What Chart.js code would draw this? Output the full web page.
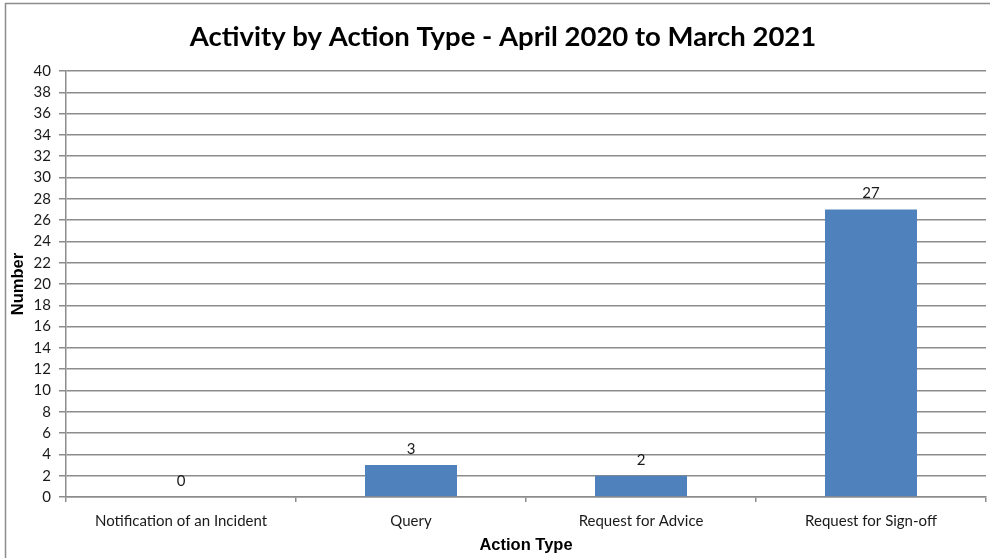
<!DOCTYPE html>
<html>
<head>
<meta charset="utf-8">
<script src="https://cdn.jsdelivr.net/npm/chart.js@4/dist/chart.umd.min.js"></script>
<style>
  html, body { margin: 0; padding: 0; background: #fff; }
  #chart { display: block; }
</style>
</head>
<body>
<canvas id="chart" width="990" height="558"></canvas>
<script>
const categories = ["Notification of an Incident", "Query", "Request for Advice", "Request for Sign-off"];
const counts = [0, 3, 2, 27];
const yMin = 0;
const yMax = 40;
const yStep = 2;

const gridColor = "#8c8c8c";
const labelFont = "Lato, 'Open Sans', sans-serif";
const axisTitleFont = "'Liberation Sans', Arial, sans-serif";

// frame around the whole chart (left and top edges are visible)
const framePlugin = {
  id: "frame",
  beforeDraw(chart) {
    const ctx = chart.ctx;
    ctx.save();
    ctx.fillStyle = "#fff";
    ctx.fillRect(0, 0, chart.width, chart.height);
    ctx.strokeStyle = "#8c8c8c";
    ctx.lineWidth = 1.5;
    ctx.strokeRect(5.5, 3.5, chart.width + 20, chart.height + 20);
    ctx.restore();
  }
};

// value printed above each bar
const valueLabels = {
  id: "valueLabels",
  afterDatasetsDraw(chart) {
    const ctx = chart.ctx;
    const meta = chart.getDatasetMeta(0);
    ctx.save();
    ctx.font = "15px " + labelFont;
    ctx.fillStyle = "#1a1a1a";
    ctx.textAlign = "center";
    ctx.textBaseline = "middle";
    meta.data.forEach((bar, i) => {
      ctx.fillText(String(counts[i]), bar.x, bar.y - 16);
    });
    ctx.restore();
  }
};

new Chart(document.getElementById("chart"), {
  type: "bar",
  data: {
    labels: categories,
    datasets: [{
      label: "Number",
      data: counts,
      backgroundColor: "#4f81bd",
      barPercentage: 0.4,
      categoryPercentage: 1
    }]
  },
  options: {
    responsive: false,
    animation: false,
    layout: { padding: { left: 20, right: 4, top: 0, bottom: 0 } },
    plugins: {
      legend: { display: false },
      tooltip: { enabled: false },
      title: {
        display: true,
        text: "Activity by Action Type - April 2020 to March 2021",
        color: "#000",
        font: { family: labelFont, size: 27.5, weight: "bold" },
        padding: { top: 21, bottom: 17 }
      }
    },
    scales: {
      x: {
        afterFit(scale) { scale.height = 61; },
        grid: {
          offset: true,
          drawOnChartArea: false,
          drawTicks: true,
          tickLength: 5,
          color: gridColor,
          lineWidth: 1.5
        },
        border: { color: gridColor, width: 1.5 },
        ticks: {
          color: "#1a1a1a",
          padding: 10,
          font: { family: labelFont, size: 15 },
          maxRotation: 0
        },
        title: {
          display: true,
          text: "Action Type",
          color: "#000",
          font: { family: axisTitleFont, size: 16.5, weight: "bold" },
          padding: { top: 0, bottom: 3 }
        }
      },
      y: {
        min: yMin,
        max: yMax,
        afterFit(scale) { scale.width = 46; },
        grid: {
          color: gridColor,
          lineWidth: 1.5,
          drawTicks: true,
          tickLength: 7
        },
        border: { color: gridColor, width: 1.5 },
        ticks: {
          stepSize: yStep,
          autoSkip: false,
          color: "#1a1a1a",
          padding: 8,
          font: { family: labelFont, size: 15 }
        },
        title: {
          display: true,
          text: "Number",
          color: "#000",
          font: { family: axisTitleFont, size: 16.5, weight: "bold" },
          padding: { top: -11, bottom: 0 }
        }
      }
    }
  },
  plugins: [framePlugin, valueLabels]
});
</script>
</body>
</html>
